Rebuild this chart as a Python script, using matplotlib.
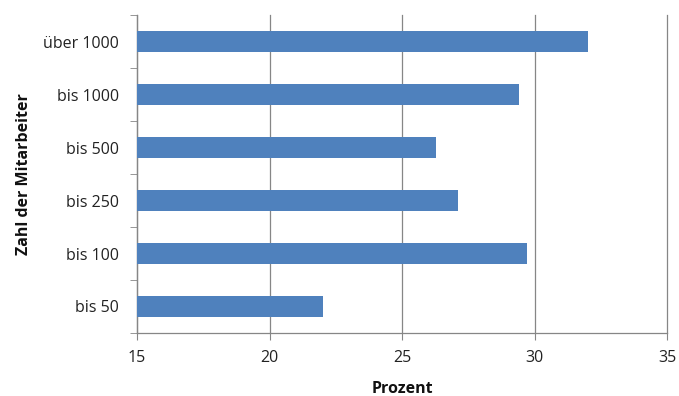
import matplotlib.pyplot as plt
import numpy as np

# Daten
kategorien = ["bis 50", "bis 100", "bis 250", "bis 500", "bis 1000", "über 1000"]
prozent = [22.0, 29.7, 27.1, 26.3, 29.4, 32.0]
xticks = [15, 20, 25, 30, 35]

plt.rcParams['font.family'] = ['Open Sans', 'DejaVu Sans']

fig = plt.figure(figsize=(6.79, 3.96), dpi=100)
ax = fig.add_axes([137/679, 1 - 333/396, (667-137)/679, (333-15)/396])

y = np.arange(len(kategorien))
ax.barh(y, np.array(prozent) - 15, left=15, height=0.41, color='#4F81BD', zorder=3)

ax.set_xlim(15, 35)
ax.set_ylim(-0.5, len(kategorien) - 0.5)
ax.set_xticks(xticks)
ax.set_xticklabels([str(v) for v in xticks], fontsize=11.5, color='#222222')
ax.set_yticks(y)
ax.set_yticklabels(kategorien, fontsize=11.5, color='#222222')
ax.set_yticks(np.arange(-0.5, len(kategorien), 1), minor=True)

ax.tick_params(axis='y', which='major', length=0, pad=13)
ax.tick_params(axis='y', which='minor', length=5, color='#868686', direction='out')
ax.tick_params(axis='x', which='major', length=5, color='#868686', direction='out', pad=7)

ax.grid(axis='x', color='#868686', linewidth=0.9, zorder=0)
for gl in ax.get_xgridlines():
    gl.set_clip_on(False)
for s in ['top', 'right']:
    ax.spines[s].set_visible(False)
for s in ['left', 'bottom']:
    ax.spines[s].set_color('#868686')
    ax.spines[s].set_linewidth(0.9)

ax.set_xlabel('Prozent', fontsize=11.5, fontweight='bold', labelpad=11, color='#111111')
ax.set_ylabel('Zahl der Mitarbeiter', fontsize=11.5, fontweight='bold', labelpad=8, color='#111111')

fig.savefig('out.png', dpi=100)
